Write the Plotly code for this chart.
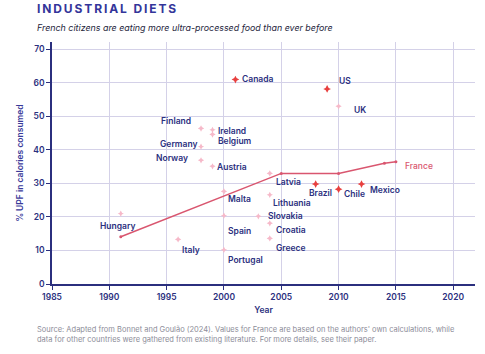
import plotly.graph_objects as go

# ---- data ----
countries = ["Canada", "US", "UK", "Finland", "Ireland", "Belgium", "Germany", "Norway",
             "Austria", "Latvia", "Malta", "Lithuania", "Slovakia", "Spain", "Croatia",
             "Greece", "Portugal", "Brazil", "Chile", "Mexico", "Hungary", "Italy"]
years = [2001, 2009, 2010, 1998, 1999, 1999, 1998, 1998,
         1999, 2004, 2000, 2004, 2003, 2000, 2004,
         2004, 2000, 2008, 2010, 2012, 1991, 1996]
upf = [61.0, 58.2, 53.0, 46.4, 46.0, 44.6, 41.0, 36.9,
       35.1, 33.0, 27.6, 26.6, 20.2, 20.4, 18.1,
       13.6, 10.2, 29.8, 28.3, 29.8, 21.0, 13.3]
highlight = [True, True, False, False, False, False, False, False,
             False, False, False, False, False, False, False,
             False, False, True, True, True, False, False]

france_years = [1991, 2005, 2010, 2014, 2015]
france_upf = [14.1, 33.0, 33.0, 36.0, 36.5]

x_ticks = [1985, 1990, 1995, 2000, 2005, 2010, 2015, 2020]
y_ticks = [0, 10, 20, 30, 40, 50, 60, 70]

# label placement (pixel offsets from the point, anchor)
label_style = {
    "Canada": (5, 1, "left"), "US": (10, 8, "left"), "UK": (13, -4, "left"),
    "Finland": (-8, 7, "right"), "Ireland": (4, -1, "left"), "Belgium": (4, -6, "left"),
    "Germany": (-2, 3, "right"), "Norway": (-11, 2, "right"), "Austria": (3, -1, "left"),
    "Latvia": (4, -9, "left"), "Malta": (2, -8, "left"), "Lithuania": (1, -8, "left"),
    "Slovakia": (8, 0, "left"), "Spain": (2, -15, "left"), "Croatia": (4, -7, "left"),
    "Greece": (4, -10, "left"), "Portugal": (2, -10, "left"), "Brazil": (5, -9, "center"),
    "Chile": (3, -5, "left"), "Mexico": (6, -6, "left"), "Hungary": (-3, -12, "center"),
    "Italy": (2, -11, "left"),
}

NAVY = "#2b2f7e"
RED = "#e8403f"
PINK = "#f6b9c9"
FR = "#d9566f"
GRID = "#d4d1e8"
FONT = "Inter"

fig = go.Figure()

fig.add_trace(go.Scatter(
    x=france_years, y=france_upf, mode="lines+markers",
    line=dict(color=FR, width=1.5), marker=dict(color=FR, size=3),
    hoverinfo="skip", showlegend=False))

fig.add_trace(go.Scatter(
    x=[y for y, h in zip(years, highlight) if not h],
    y=[v for v, h in zip(upf, highlight) if not h],
    mode="markers", marker=dict(color=PINK, size=4.5, symbol="star-diamond"),
    showlegend=False))

fig.add_trace(go.Scatter(
    x=[y for y, h in zip(years, highlight) if h],
    y=[v for v, h in zip(upf, highlight) if h],
    mode="markers", marker=dict(color=RED, size=5.5, symbol="star-diamond"),
    showlegend=False))

for c, yr, v in zip(countries, years, upf):
    dx, dy, anc = label_style[c]
    fig.add_annotation(x=yr, y=v, text=c, showarrow=False, xanchor=anc, yanchor="middle",
                       xshift=dx, yshift=dy,
                       font=dict(family=FONT, size=8.5, color=NAVY, weight=600))

fig.add_annotation(x=france_years[-1], y=france_upf[-1], text="France", showarrow=False,
                   xanchor="left", yanchor="middle", xshift=7, yshift=-4,
                   font=dict(family=FONT, size=8.5, color=FR, weight=500))

title = "\u2009".join("INDUSTRIAL") + "\u2009 \u2009" + "\u2009".join("DIETS")
fig.add_annotation(xref="paper", yref="paper", x=-0.04, y=1.0, yshift=34,
                   text="<b>" + title + "</b>", showarrow=False, xanchor="left", yanchor="middle",
                   font=dict(family=FONT, size=12, color="#33359a"))
fig.add_annotation(xref="paper", yref="paper", x=-0.04, y=1.0, yshift=15,
                   text="<i>French citizens are eating more ultra-processed food than ever before</i>",
                   showarrow=False, xanchor="left", yanchor="middle",
                   font=dict(family=FONT, size=8.9, color="#1e1e3c"))
fig.add_annotation(xref="paper", yref="paper", x=-0.04, y=0.0, yshift=-39,
                   text="Source: Adapted from Bonnet and Goulão (2024). Values for France are based on the authors' own calculations, while<br>data for other countries were gathered from existing literature. For more details, see their paper.",
                   showarrow=False, xanchor="left", yanchor="top", align="left",
                   font=dict(family=FONT, size=7.5, color="#8c8c98"))

fig.update_layout(
    width=485, height=354,
    margin=dict(l=52, r=10, t=42, b=70),
    paper_bgcolor="white", plot_bgcolor="white",
    font=dict(family=FONT, color=NAVY),
    xaxis=dict(range=[1985, 2021.9], tickvals=x_ticks, showgrid=True, gridcolor=GRID, gridwidth=1,
               showline=True, linecolor=NAVY, linewidth=1.5, ticks="outside", ticklen=4,
               tickcolor=NAVY, zeroline=False,
               tickfont=dict(family=FONT, size=8.5, color=NAVY, weight=600),
               title=dict(text="Year", font=dict(family=FONT, size=8.5, color=NAVY, weight=600), standoff=6)),
    yaxis=dict(range=[0, 72.2], tickvals=y_ticks, showgrid=True, gridcolor=GRID, gridwidth=1,
               showline=True, linecolor=NAVY, linewidth=1.5, ticks="outside", ticklen=4,
               tickcolor=NAVY, zeroline=False,
               tickfont=dict(family=FONT, size=8.5, color=NAVY, weight=600),
               title=dict(text="% UPF in calories consumed", font=dict(family=FONT, size=8.5, color="#3a3a9a", weight=600), standoff=8)),
)

fig.write_html("out.html")
